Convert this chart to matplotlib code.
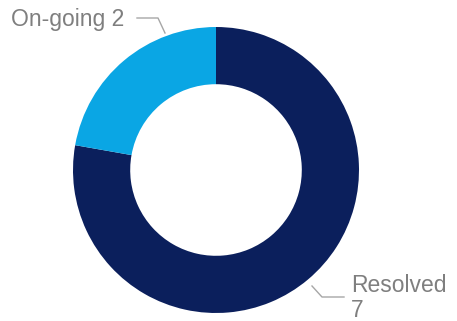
import matplotlib.pyplot as plt

labels = ["Resolved", "On-going"]
counts = [7, 2]
colors = ["#0b1f5c", "#0aa6e4"]

plt.rcParams["font.family"] = ["Liberation Sans", "DejaVu Sans"]

W, H = 457, 321
fig = plt.figure(figsize=(W / 100, H / 100), dpi=100)
ax = fig.add_axes([0, 0, 1, 1])

cx, cy, r = 216, H - 170, 143
ax.pie(
    counts,
    colors=colors,
    startangle=90,
    counterclock=False,
    radius=r,
    center=(cx, cy),
    wedgeprops=dict(width=r * 0.4, linewidth=0),
    frame=True,
)
ax.set_xlim(0, W)
ax.set_ylim(0, H)
ax.set_aspect("equal")
ax.axis("off")

text_color = "#7f7f7f"
line_color = "#a6a6a6"
fs = 16.5

# leader for On-going
ax.plot([137, 158, 165], [H - 18, H - 18, H - 33], color=line_color, lw=1)
ax.text(11, H - 26, f"{labels[1]} {counts[1]}", fontsize=fs, color=text_color,
        ha="left", va="baseline")

# leader for Resolved
ax.plot([312, 322, 344], [H - 286, H - 297, H - 297], color=line_color, lw=1)
ax.text(351, H - 292, labels[0], fontsize=fs, color=text_color, ha="left", va="baseline")
ax.text(351, H - 317, str(counts[0]), fontsize=fs, color=text_color, ha="left", va="baseline")

fig.savefig("out.png", dpi=100)
